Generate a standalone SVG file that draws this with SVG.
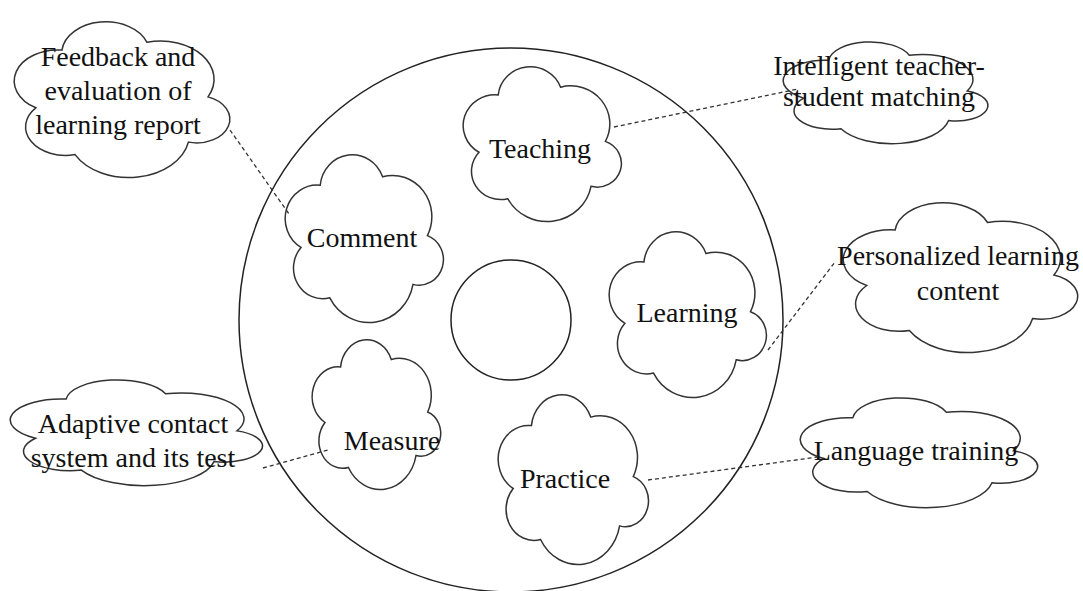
<svg xmlns="http://www.w3.org/2000/svg" xmlns:xlink="http://www.w3.org/1999/xlink" width="1083" height="591" viewBox="0 0 1083 591">
<style>
.cl{fill:#fff;stroke:#333;stroke-width:1.5}
.t{font-family:"Liberation Serif","Times New Roman",serif;font-size:28px;fill:#111;text-anchor:middle}
.c{fill:none;stroke:#333;stroke-width:1.3;stroke-dasharray:4 3}
.ring{fill:none;stroke:#222;stroke-width:1.5}
</style>
<defs>
<path id="cloud" vector-effect="non-scaling-stroke" d="M10,55 A19.9,19.9 0 0 1 22,18 A20.2,20.2 0 0 1 61,13 A24.5,24.5 0 0 1 89,48 A15.2,15.2 0 0 1 80,77 A27.9,27.9 0 0 1 28,85 A18.3,18.3 0 0 1 10,55 Z"/>
</defs>
<rect width="1083" height="591" fill="#fff"/>
<g id="outer-circle"><circle class="ring" cx="511" cy="320" r="272"/></g>
<g id="center-circle"><circle class="ring" cx="511" cy="320" r="60"/></g>

<g id="feedback"><use href="#cloud" class="cl" transform="translate(14,22) scale(2.18,1.56)"/>
<text class="t" x="118" y="66">Feedback and</text><text class="t" x="118" y="100">evaluation of</text><text class="t" x="118" y="134">learning report</text></g>

<g id="teaching"><use href="#cloud" class="cl" transform="translate(463,67) scale(1.6,1.55)"/>
<text class="t" x="540" y="158">Teaching</text></g>

<g id="matching"><use href="#cloud" class="cl" transform="translate(783,42) scale(2.07,1.02)"/>
<text class="t" x="879" y="75">Intelligent teacher-</text><text class="t" x="879" y="106">student matching</text></g>

<g id="comment"><use href="#cloud" class="cl" transform="translate(285,155) scale(1.6,1.68)"/>
<text class="t" x="362" y="247">Comment</text></g>

<g id="learning"><use href="#cloud" class="cl" transform="translate(609,232) scale(1.59,1.66)"/>
<text class="t" x="687" y="322">Learning</text></g>

<g id="personalized"><use href="#cloud" class="cl" transform="translate(843,203) scale(2.37,1.5)"/>
<text class="t" x="958" y="265">Personalized learning</text><text class="t" x="958" y="300">content</text></g>

<g id="adaptive"><use href="#cloud" class="cl" transform="translate(10,380) scale(2.55,1.06)"/>
<text class="t" x="133" y="433">Adaptive contact</text><text class="t" x="133" y="467">system and its test</text></g>

<g id="measure"><use href="#cloud" class="cl" transform="translate(312,340) scale(1.3,1.5)"/>
<text class="t" x="392" y="450">Measure</text></g>

<g id="practice"><use href="#cloud" class="cl" transform="translate(498,395) scale(1.52,1.7)"/>
<text class="t" x="565" y="488">Practice</text></g>

<g id="language"><use href="#cloud" class="cl" transform="translate(800,398) scale(2.4,1.1)"/>
<text class="t" x="916" y="460">Language training</text></g>

<g id="connectors">
<line class="c" x1="230" y1="130" x2="289" y2="214"/>
<line class="c" x1="614" y1="127" x2="798" y2="89"/>
<line class="c" x1="768" y1="350" x2="835" y2="262"/>
<line class="c" x1="263" y1="468" x2="328" y2="450"/>
<line class="c" x1="648" y1="480" x2="818" y2="457"/>
</g>
</svg>
